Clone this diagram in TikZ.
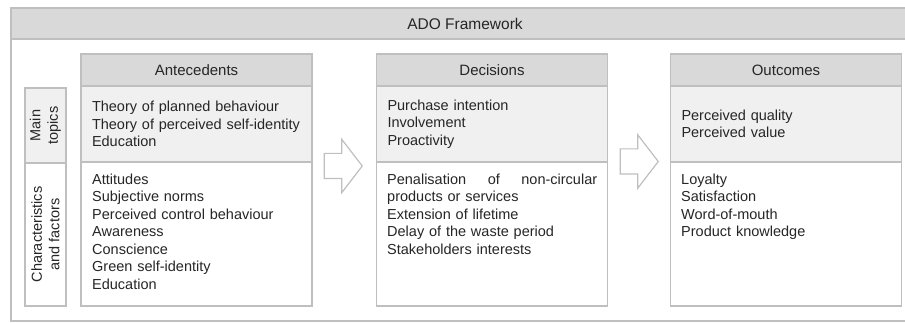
\documentclass[tikz,border=0pt]{standalone}
\usepackage{fontspec}
\setmainfont{Liberation Sans}
\usetikzlibrary{shapes.arrows}
\definecolor{headgray}{HTML}{D9D9D9}
\definecolor{topicgray}{HTML}{F0F0F0}
\definecolor{linegray}{HTML}{BFBFBF}
\definecolor{textgray}{HTML}{262626}

\begin{document}
\begin{tikzpicture}[x=1pt, y=-1pt, text=textgray, font=\fontsize{14.5}{17.5}\selectfont]

        \useasboundingbox (0,0) rectangle (905,323);

        \begin{scope}[every node/.style={draw=linegray, line width=1.5pt, inner sep=0pt}]
          \node (frame) at (465,164.5) [minimum width=908pt, minimum height=313pt] {};
          \node (title) at (465,23.5)  [fill=headgray, minimum width=908pt, minimum height=31pt,
                                        font=\fontsize{15.5}{18}\selectfont] {ADO Framework};
        \end{scope}

        \begin{scope}[every node/.style={draw=linegray, line width=1.5pt, inner sep=0pt, minimum width=231pt}]

          \begin{scope}[every node/.append style={fill=headgray, minimum height=32pt,
                                                  font=\fontsize{15}{18}\selectfont}]
            \node (a1) at (196.5,70) {Antecedents};
            \node (d1) at (492,70)   {Decisions};
            \node (o1) at (786,70)   {Outcomes};
          \end{scope}

          \begin{scope}[every node/.append style={fill=topicgray, minimum height=76pt,
                                                  text width=209pt, align=left}]
            \node (a2) at (196.5,124) {Theory of planned behaviour\\Theory of perceived self-identity\\Education};
            \node (d2) at (492,124)   {Purchase intention\\Involvement\\Proactivity};
            \node (o2) at (786,124)   {Perceived quality\\Perceived value};
          \end{scope}

          \begin{scope}[every node/.append style={fill=white, minimum height=144pt}]
            \node (a3) at (196.5,234) {};
            \node (d3) at (492,234)   {};
            \node (o3) at (786,234)   {};
          \end{scope}

          \begin{scope}[every node/.append style={rotate=90, minimum height=41pt, align=center}]
            \node (s1) at (45.5,125.5) [fill=topicgray, minimum width=75pt]  {Main\\topics};
            \node (s2) at (45.5,234.5) [fill=white, minimum width=143pt] {Characteristics\\and factors};
          \end{scope}
        \end{scope}

        \begin{scope}[every node/.style={anchor=north west, inner sep=0pt, text width=210pt, align=left}]
          \node (a4) at (92,173.5)  {Attitudes\\Subjective norms\\Perceived control behaviour\\Awareness\\Conscience\\Green self-identity\\Education};
          \node (d4) at (387,173.5) {Penalisation\hfill of\hfill non-circular\\products or services\\Extension of lifetime\\Delay of the waste period\\Stakeholders interests};
          \node (o4) at (681,173.5) {Loyalty\\Satisfaction\\Word-of-mouth\\Product knowledge};
        \end{scope}

        \begin{scope}[every node/.style={single arrow, draw=linegray, line width=1.2pt, fill=white,
                                         inner xsep=0pt, inner ysep=12pt, single arrow head extend=14pt,
                                         single arrow tip angle=105, minimum height=38pt, anchor=tip}]
          \node (p1) at (363,166)   {};
          \node (p2) at (659,161.5) {};
        \end{scope}

      \end{tikzpicture}
\end{document}
